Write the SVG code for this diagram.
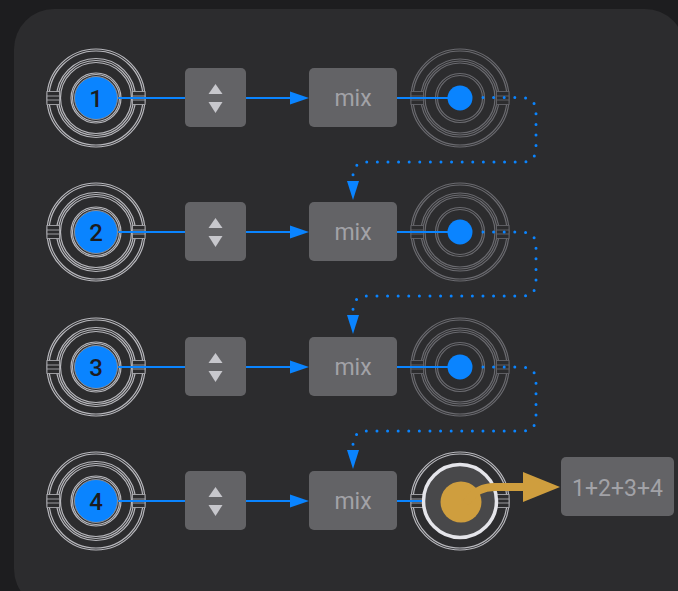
<svg xmlns="http://www.w3.org/2000/svg" width="678" height="591" viewBox="0 0 678 591">
  <defs>
    <style>
      .ring { fill: none; stroke: #b8b8bd; stroke-width: 1.2; }
      .ring-dim { fill: none; stroke: #6a6a6f; stroke-width: 1.2; }
      .tab { fill: #2c2c2e; stroke: #a8a8ad; stroke-width: 0.9; }
      .tab-dim { fill: #2c2c2e; stroke: #646469; stroke-width: 0.9; }
      .box { fill: #636366; }
      .tri { fill: #c7c7cc; }
      .lbl { font-family: Roboto, "Liberation Sans", sans-serif; font-size: 23px; fill: #a2a2a7; text-anchor: middle; }
      .num { font-family: Roboto, "Liberation Sans", sans-serif; font-size: 24px; font-weight: 500; fill: #1c1c1e; text-anchor: middle; }
      .wire { fill: none; stroke: #0a84ff; stroke-width: 2; }
      .dots { fill: none; stroke: #0a84ff; stroke-width: 3; stroke-linecap: round; stroke-dasharray: 0 10.6; }
      .head { fill: #0a84ff; }
    </style>
    <!-- input socket: rings and side tabs -->
    <g id="socket">
      <circle class="ring" r="49"/>
      <circle class="ring" r="47"/>
      <circle class="ring" r="39.5"/>
      <circle class="ring" r="37.5"/>
      <circle class="ring" r="35.5"/>
      <circle class="ring" r="25"/>
      <circle class="ring" r="23.5"/>
      <rect class="tab" x="-49" y="-6.5" width="12.5" height="13"/>
      <line class="tab" x1="-49" y1="-2" x2="-36.5" y2="-2"/>
      <line class="tab" x1="-49" y1="2" x2="-36.5" y2="2"/>
      <rect class="tab" x="36.5" y="-6.5" width="12.5" height="13"/>
      <line class="tab" x1="36.5" y1="-2" x2="49" y2="-2"/>
      <line class="tab" x1="36.5" y1="2" x2="49" y2="2"/>
    </g>
    <!-- output socket, dimmed -->
    <g id="socket-dim">
      <circle class="ring-dim" r="49"/>
      <circle class="ring-dim" r="47"/>
      <circle class="ring-dim" r="39"/>
      <circle class="ring-dim" r="37"/>
      <circle class="ring-dim" r="35"/>
      <circle class="ring-dim" r="24.5"/>
      <circle class="ring-dim" r="22.5"/>
      <rect class="tab-dim" x="-49" y="-6.5" width="12.5" height="13"/>
      <line class="tab-dim" x1="-49" y1="-2" x2="-36.5" y2="-2"/>
      <line class="tab-dim" x1="-49" y1="2" x2="-36.5" y2="2"/>
      <rect class="tab-dim" x="36.5" y="-6.5" width="12.5" height="13"/>
      <line class="tab-dim" x1="36.5" y1="-2" x2="49" y2="-2"/>
      <line class="tab-dim" x1="36.5" y1="2" x2="49" y2="2"/>
    </g>
    <!-- stepper control -->
    <g id="stepper">
      <rect class="box" x="0" y="0" width="61" height="59" rx="5"/>
      <polygon class="tri" points="30.5,16 37.5,26 23.5,26"/>
      <polygon class="tri" points="23.5,34 37.5,34 30.5,45"/>
    </g>
  </defs>

  <!-- backdrop and panel -->
  <rect x="0" y="0" width="678" height="591" fill="#1d1d1f"/>
  <rect x="14" y="9" width="671" height="600" rx="40" fill="#2c2c2e"/>

  <!-- row 1 -->
  <g id="in-1">
    <use href="#socket" x="96" y="98"/>
    <circle cx="96" cy="98" r="21.5" fill="#0a84ff" stroke="#8e8e93" stroke-width="1"/>
    <text class="num" x="96" y="106.5">1</text>
  </g>
  <g id="step-1"><use href="#stepper" x="185" y="68"/></g>
  <g id="mix-1">
    <rect class="box" x="309" y="68" width="88" height="59" rx="5"/>
    <text class="lbl" x="353" y="106">mix</text>
  </g>
  <g id="out-1">
    <use href="#socket-dim" x="460" y="98"/>
    <circle cx="460" cy="98" r="12.5" fill="#0a84ff"/>
  </g>

  <!-- row 2 -->
  <g id="in-2">
    <use href="#socket" x="96" y="232"/>
    <circle cx="96" cy="232" r="21.5" fill="#0a84ff" stroke="#8e8e93" stroke-width="1"/>
    <text class="num" x="96" y="240.5">2</text>
  </g>
  <g id="step-2"><use href="#stepper" x="185" y="202"/></g>
  <g id="mix-2">
    <rect class="box" x="309" y="202" width="88" height="59" rx="5"/>
    <text class="lbl" x="353" y="240">mix</text>
  </g>
  <g id="out-2">
    <use href="#socket-dim" x="460" y="232"/>
    <circle cx="460" cy="232" r="12.5" fill="#0a84ff"/>
  </g>

  <!-- row 3 -->
  <g id="in-3">
    <use href="#socket" x="96" y="367"/>
    <circle cx="96" cy="367" r="21.5" fill="#0a84ff" stroke="#8e8e93" stroke-width="1"/>
    <text class="num" x="96" y="375.5">3</text>
  </g>
  <g id="step-3"><use href="#stepper" x="185" y="337"/></g>
  <g id="mix-3">
    <rect class="box" x="309" y="337" width="88" height="59" rx="5"/>
    <text class="lbl" x="353" y="375">mix</text>
  </g>
  <g id="out-3">
    <use href="#socket-dim" x="460" y="367"/>
    <circle cx="460" cy="367" r="12.5" fill="#0a84ff"/>
  </g>

  <!-- row 4 -->
  <g id="in-4">
    <use href="#socket" x="96" y="501"/>
    <circle cx="96" cy="501" r="21.5" fill="#0a84ff" stroke="#8e8e93" stroke-width="1"/>
    <text class="num" x="96" y="509.5">4</text>
  </g>
  <g id="step-4"><use href="#stepper" x="185" y="471"/></g>
  <g id="mix-4">
    <rect class="box" x="309" y="471" width="88" height="59" rx="5"/>
    <text class="lbl" x="353" y="509">mix</text>
  </g>
  <g id="out-4">
    <circle cx="460" cy="501" r="49" class="ring"/>
    <circle cx="460" cy="501" r="47" class="ring"/>
    <rect class="tab" x="411" y="494.5" width="12.5" height="13"/>
    <line class="tab" x1="411" y1="499" x2="423.5" y2="499"/>
    <line class="tab" x1="411" y1="503" x2="423.5" y2="503"/>
    <rect class="tab" x="496.5" y="494.5" width="12.5" height="13"/>
    <line class="tab" x1="496.5" y1="499" x2="509" y2="499"/>
    <line class="tab" x1="496.5" y1="503" x2="509" y2="503"/>
    <circle cx="460" cy="501" r="36.5" fill="#48484a" stroke="#e5e5ea" stroke-width="3.5"/>
    <circle cx="461" cy="502" r="20.5" fill="#cf9e3e"/>
  </g>
  <g id="sum">
    <rect class="box" x="561" y="457" width="113" height="59" rx="5"/>
    <text class="lbl" x="617.5" y="496">1+2+3+4</text>
  </g>

  <!-- connectors, drawn over the sockets -->
  <g id="connectors">
    <!-- solid wires per row -->
    <path class="wire" d="M118,98 H185 M246,98 H292 M397,98 H460"/>
    <path class="wire" d="M118,232 H185 M246,232 H292 M397,232 H460"/>
    <path class="wire" d="M118,367 H185 M246,367 H292 M397,367 H460"/>
    <path class="wire" d="M118,501 H185 M246,501 H292 M397,501 H422"/>
    <polygon class="head" points="290,91.5 309,98 290,104.5"/>
    <polygon class="head" points="290,225.5 309,232 290,238.5"/>
    <polygon class="head" points="290,360.5 309,367 290,373.5"/>
    <polygon class="head" points="290,494.5 309,501 290,507.5"/>
    <!-- dotted chain from each output into the next mixer -->
    <path class="dots" d="M483,97.5 H521 Q536,97.5 536,112 V148 Q536,162 522,162 H367 Q353,162 353,176 V181"/>
    <polygon class="head" points="347,181 359,181 353,200"/>
    <path class="dots" d="M483,232 H521 Q536,232 536,246 V282 Q536,296 522,296 H367 Q353,296 353,310 V315"/>
    <polygon class="head" points="347,315 359,315 353,334"/>
    <path class="dots" d="M483,367 H521 Q536,367 536,381 V417 Q536,431 522,431 H367 Q353,431 353,445 V450"/>
    <polygon class="head" points="347,450 359,450 353,469"/>
    <!-- final mix out -->
    <path d="M468,500 Q478,487 494,487 H526" fill="none" stroke="#cf9e3e" stroke-width="8" stroke-linecap="round"/>
    <polygon points="523,472 560,487 523,502" fill="#cf9e3e"/>
  </g>
</svg>
